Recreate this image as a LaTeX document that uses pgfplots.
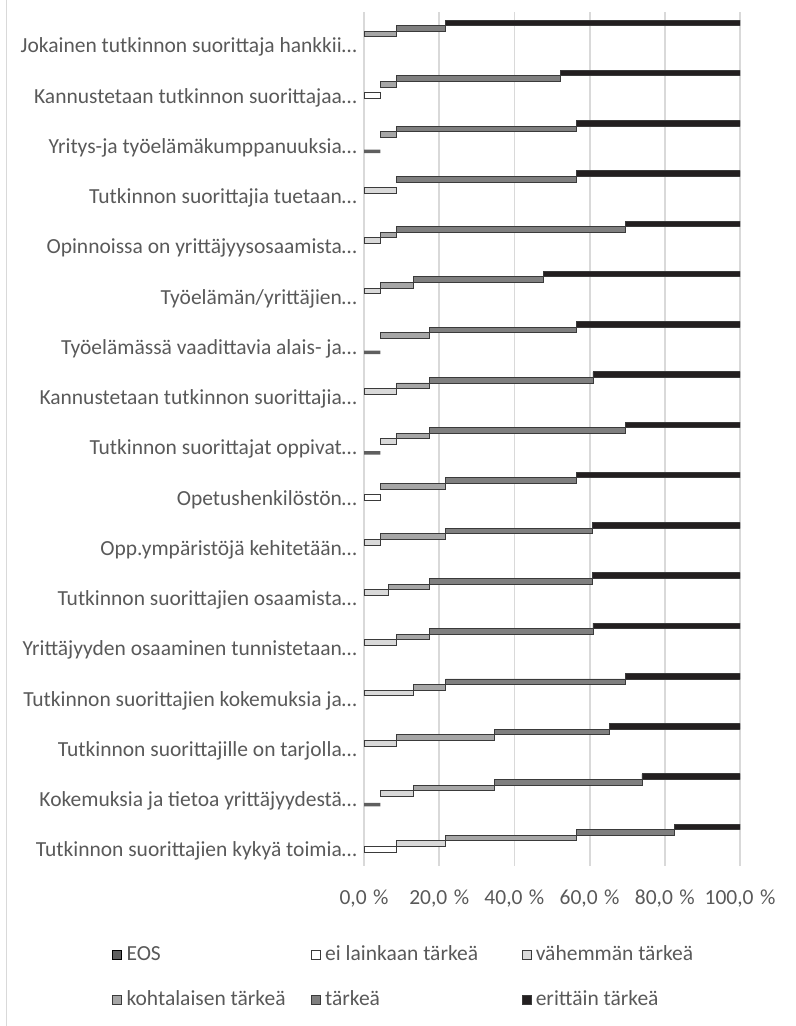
\documentclass[border=0pt]{standalone}
\usepackage{pgfplots}
\pgfplotsset{compat=1.18}
\usepackage{pgfplotstable}
\usepackage{fontspec}
\setmainfont{Carlito}

\definecolor{txt}{HTML}{595959}
\definecolor{gridc}{HTML}{D9D9D9}
\definecolor{ceos}{HTML}{5F5F5F}
\definecolor{cvah}{HTML}{D9D9D9}
\definecolor{ckoh}{HTML}{A6A6A6}
\definecolor{ctar}{HTML}{7F7F7F}
\definecolor{ceri}{HTML}{231F20}
\definecolor{edge}{HTML}{3A3A3A}

% shares (%), row 0 = bottom category
\pgfplotstableread{
y  eos   ei    vah    koh    tar    eri
0  0     8.70  13.04  34.78  26.09  17.39
1  4.35  0     8.70   21.74  39.13  26.09
2  0     0     8.70   26.09  30.43  34.78
3  0     0     13.04  8.70   47.83  30.43
4  0     0     8.70   8.70   43.48  39.13
5  0     0     6.52   10.87  43.48  39.13
6  0     0     4.35   17.39  39.13  39.13
7  0     4.35  0      17.39  34.78  43.48
8  4.35  0     4.35   8.70   52.17  30.43
9  0     0     8.70   8.70   43.48  39.13
10 4.35  0     0      13.04  39.13  43.48
11 0     0     4.35   8.70   34.78  52.17
12 0     0     4.35   4.35   60.87  30.43
13 0     0     8.70   0      47.83  43.48
14 4.35  0     0      4.35   47.83  43.48
15 0     4.35  0      4.35   43.48  47.83
16 0     0     0      8.70   13.04  78.26
}\data

\begin{document}
\begin{tikzpicture}
\path[use as bounding box] (0,0) rectangle (796bp,1026bp);
\draw[gridc, line width=1.5bp] (6.5bp,0) -- (6.5bp,1026bp);
\begin{axis}[
  at={(364bp,160bp)}, anchor=south west,
  scale only axis, width=376bp, height=854.3bp,
  xbar stacked,
  xmin=0, xmax=100, ymin=-0.5, ymax=16.5,
  axis line style={draw=none},
  tick style={draw=none},
  xmajorgrids, grid style={gridc, line width=1.8bp},
  xtick={0,20,...,100},
  xticklabels={{0,0\hspace{0.3em}\%},{20,0\hspace{0.3em}\%},{40,0\hspace{0.3em}\%},{60,0\hspace{0.3em}\%},{80,0\hspace{0.3em}\%},{100,0\hspace{0.3em}\%}},
  ytick={0,...,16},
  yticklabels={
    Tutkinnon suorittajien kykyä toimia…,
    Kokemuksia ja tietoa yrittäjyydestä…,
    Tutkinnon suorittajille on tarjolla…,
    Tutkinnon suorittajien kokemuksia ja…,
    Yrittäjyyden osaaminen tunnistetaan…,
    Tutkinnon suorittajien osaamista…,
    Opp.ympäristöjä kehitetään…,
    Opetushenkilöstön…,
    Tutkinnon suorittajat oppivat…,
    Kannustetaan tutkinnon suorittajia…,
    Työelämässä vaadittavia alais- ja…,
    Työelämän/yrittäjien…,
    Opinnoissa on yrittäjyysosaamista…,
    Tutkinnon suorittajia tuetaan…,
    Yritys-ja työelämäkumppanuuksia…,
    Kannustetaan tutkinnon suorittajaa…,
    Jokainen tutkinnon suorittaja hankkii…},
  ticklabel style={font=\fontsize{21.5bp}{25bp}\selectfont, text=txt},
  xticklabel style={anchor=base, yshift=-39bp, inner sep=0pt},
  yticklabel style={anchor=base east, yshift=-16bp, xshift=-7bp, inner sep=0pt},
  legend columns=3,
  legend style={at={(-0.6689,-0.0925)}, anchor=north west, draw=none, fill=none,
    inner sep=0pt, outer sep=0pt, row sep=25bp,
    nodes={inner sep=0pt, text height=15bp, text depth=5bp, anchor=base west,
      font=\fontsize{21.5bp}{25bp}\selectfont, text=txt},
    /tikz/every odd column/.append style={column sep=4.5bp}},
  legend image code/.code={\draw[#1, line width=0.6bp] (0bp,0.5bp) rectangle (9bp,10bp);},
]
\addplot[fill=ceos, draw=none, bar width=3.5bp, bar shift=-14bp] table[x=eos, y=y] {\data};
\addlegendentry{\makebox[184.5bp][l]{EOS}}
\addplot[fill=white, draw=edge, line width=0.8bp, bar width=5.6bp, bar shift=-8.4bp] table[x=ei, y=y] {\data};
\addlegendentry{\makebox[196.5bp][l]{ei lainkaan tärkeä}}
\addplot[fill=cvah, draw=edge, line width=0.8bp, bar width=5.6bp, bar shift=-2.8bp] table[x=vah, y=y] {\data};
\addlegendentry{vähemmän tärkeä}
\addplot[fill=ckoh, draw=edge, line width=0.8bp, bar width=5.6bp, bar shift=2.8bp] table[x=koh, y=y] {\data};
\addlegendentry{\makebox[184.5bp][l]{kohtalaisen tärkeä}}
\addplot[fill=ctar, draw=edge, line width=0.8bp, bar width=5.6bp, bar shift=8.4bp] table[x=tar, y=y] {\data};
\addlegendentry{\makebox[196.5bp][l]{tärkeä}}
\addplot[fill=ceri, draw=edge, line width=0.8bp, bar width=5.6bp, bar shift=14bp] table[x=eri, y=y] {\data};
\addlegendentry{erittäin tärkeä}
\draw[gridc, line width=1.8bp] (axis cs:0,-0.5) -- (axis cs:0,16.5);
\end{axis}
\end{tikzpicture}
\end{document}
